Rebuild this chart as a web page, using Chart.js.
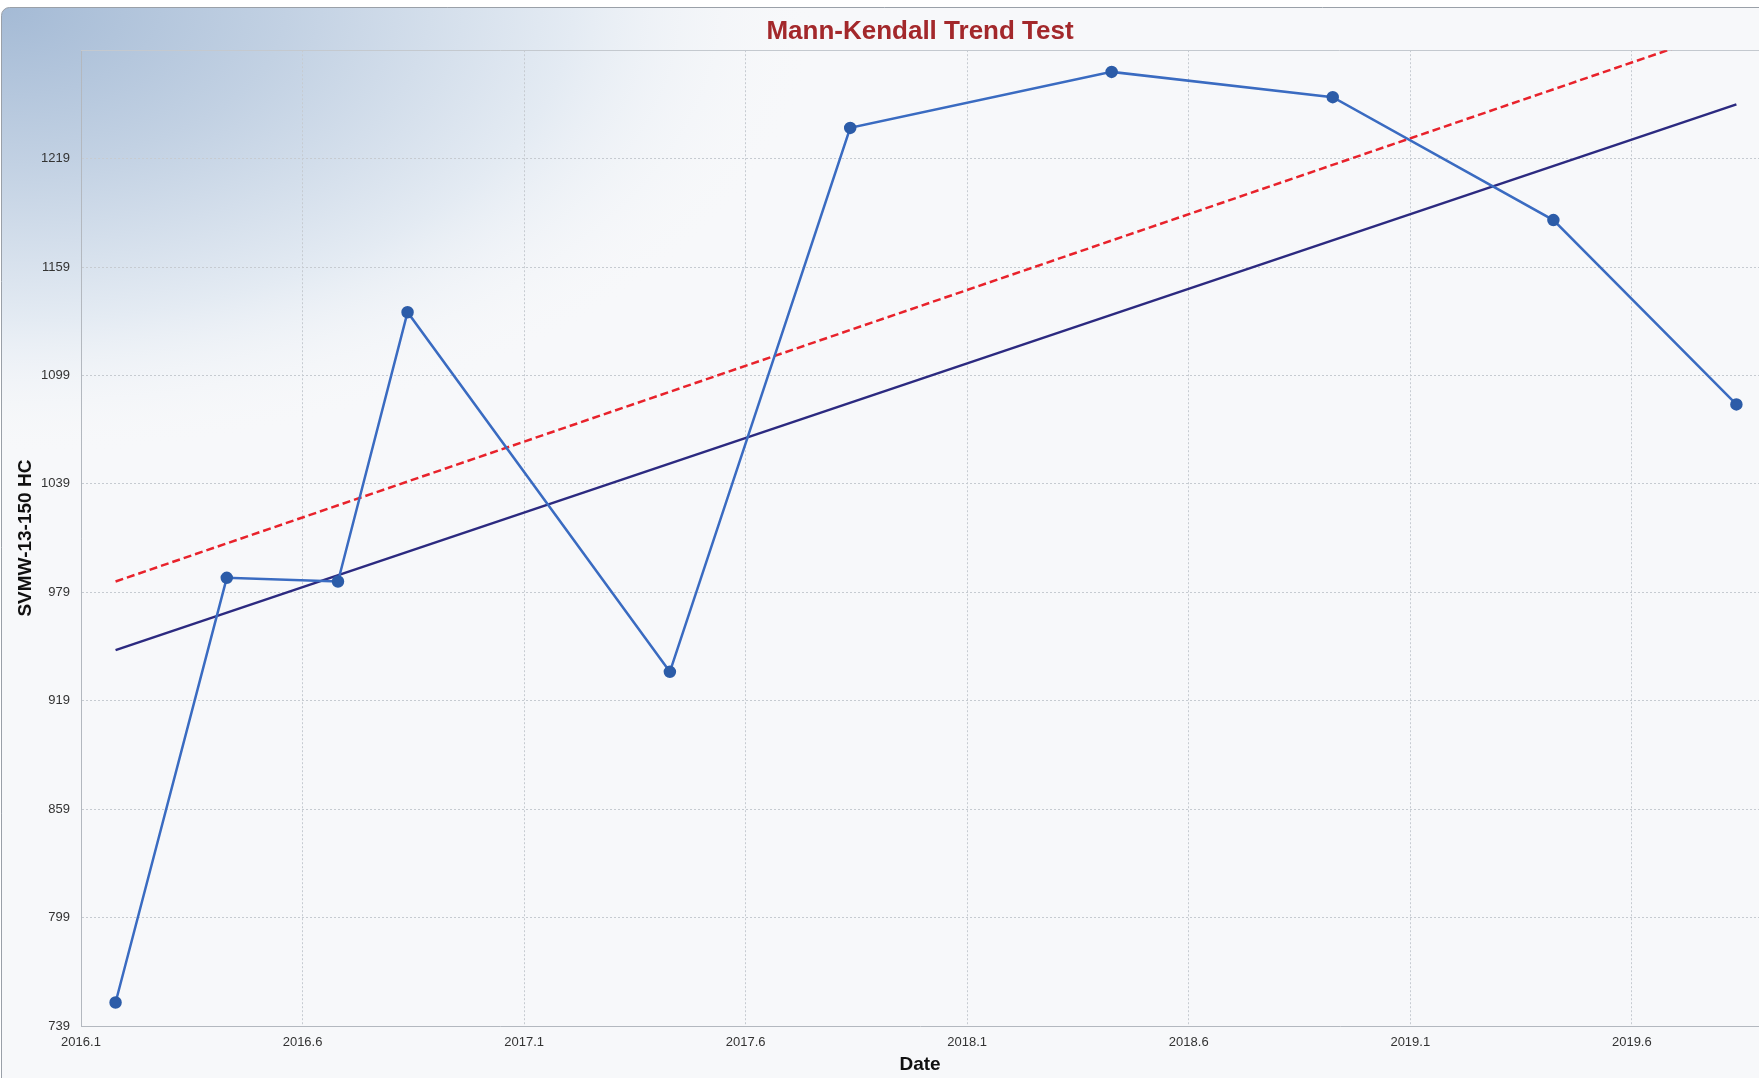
<!DOCTYPE html>
<html>
<head>
<meta charset="utf-8">
<title>Mann-Kendall Trend Test</title>
<script src="https://cdn.jsdelivr.net/npm/chart.js@4.4.1/dist/chart.umd.min.js"></script>
<style>
  html, body { margin: 0; padding: 0; background: #fff; }
  #wrap { width: 1759px; height: 1078px; }
</style>
</head>
<body>
<div id="wrap"><canvas id="mk" width="1759" height="1078"></canvas></div>
<script>
// sample dates (decimal years) and measured values
var sampleDates = [2016.178, 2016.429, 2016.680, 2016.837, 2017.429, 2017.836, 2018.426, 2018.925, 2019.423, 2019.836];
var sampleValues = [752, 987, 985, 1134, 935, 1236, 1267, 1253, 1185, 1083];

// trend line and upper bound, at first and last date
var trendDates = [2016.178, 2019.836];
var trendValues = [947, 1249];
var upperValues = [985, 1292];

var xTicks = [2016.1, 2016.6, 2017.1, 2017.6, 2018.1, 2018.6, 2019.1, 2019.6];
var yTicks = [739, 799, 859, 919, 979, 1039, 1099, 1159, 1219];
var xMin = 2016.1, xMax = 2019.887;
var yMin = 739, yMax = 1279;

function toPoints(xs, ys) {
  var pts = [];
  for (var i = 0; i < xs.length; i++) {
    pts.push({x: xs[i], y: ys[i]});
  }
  return pts;
}

function roundedBox(ctx, x, y, w, h, r) {
  ctx.beginPath();
  ctx.moveTo(x + r, y);
  ctx.lineTo(x + w, y);
  ctx.lineTo(x + w, y + h);
  ctx.lineTo(x, y + h);
  ctx.lineTo(x, y + r);
  ctx.arcTo(x, y, x + r, y, r);
  ctx.closePath();
}

// panel background with the bluish corner, and the top edge of the plot
var framePlugin = {
  id: 'frame',
  beforeDraw: function(chart) {
    var ctx = chart.ctx, w = chart.width, h = chart.height;
    ctx.save();
    ctx.fillStyle = '#ffffff';
    ctx.fillRect(0, 0, w, h);
    roundedBox(ctx, 1.5, 7.5, w + 10, h + 10, 8);
    ctx.fillStyle = '#f7f8fa';
    ctx.fill();
    ctx.save();
    ctx.clip();
    ctx.translate(0, 7);
    ctx.scale(820, 450);
    var g = ctx.createRadialGradient(0, 0, 0, 0, 0, 1);
    g.addColorStop(0, '#a4bad5');
    g.addColorStop(0.35, '#c2d1e3');
    g.addColorStop(0.7, '#e4ebf3');
    g.addColorStop(1, 'rgba(247,248,250,0)');
    ctx.fillStyle = g;
    ctx.fillRect(0, 0, 1.2, 1.2);
    ctx.restore();
    roundedBox(ctx, 1.5, 7.5, w + 10, h + 10, 8);
    ctx.strokeStyle = '#9aa0a8';
    ctx.lineWidth = 1;
    ctx.stroke();
    ctx.restore();
  },
  beforeDatasetsDraw: function(chart) {
    var a = chart.chartArea, ctx = chart.ctx;
    ctx.save();
    ctx.strokeStyle = '#c4c9cf';
    ctx.lineWidth = 1;
    ctx.beginPath();
    ctx.moveTo(a.left, Math.round(a.top) + 0.5);
    ctx.lineTo(a.right, Math.round(a.top) + 0.5);
    ctx.stroke();
    ctx.restore();
  }
};

var tickFont = { family: "'Liberation Sans', Arial, sans-serif", size: 13 };
var boldFont = { family: "'Liberation Sans', Arial, sans-serif", size: 19, weight: 'bold' };

new Chart(document.getElementById('mk'), {
  type: 'line',
  data: {
    datasets: [{
      label: 'SVMW-13-150 HC',
      data: toPoints(sampleDates, sampleValues),
      borderColor: '#3a6bc1',
      borderWidth: 2.5,
      pointRadius: 5,
      pointBackgroundColor: '#2c5ca8',
      pointBorderColor: '#2c5ca8',
      tension: 0
    }, {
      label: 'Trend',
      data: toPoints(trendDates, trendValues),
      borderColor: '#2c2a80',
      borderWidth: 2.5,
      pointRadius: 0
    }, {
      label: 'Upper',
      data: toPoints(trendDates, upperValues),
      borderColor: '#e8222b',
      borderWidth: 2.5,
      borderDash: [8, 4],
      pointRadius: 0
    }]
  },
  options: {
    responsive: false,
    animation: false,
    layout: { autoPadding: false, padding: { top: 8, left: 0, right: 0, bottom: 0 } },
    plugins: {
      legend: { display: false },
      tooltip: { enabled: false },
      title: {
        display: true,
        text: 'Mann-Kendall Trend Test',
        fullSize: false,
        color: '#a3282b',
        font: { family: "'Liberation Sans', Arial, sans-serif", size: 26, weight: 'bold' },
        padding: { top: 8, bottom: 3 }
      }
    },
    scales: {
      x: {
        type: 'linear',
        min: xMin,
        max: xMax,
        afterBuildTicks: function(scale) {
          scale.ticks = xTicks.map(function(v) { return {value: v}; });
        },
        afterFit: function(scale) { scale.height = 52; },
        ticks: {
          font: tickFont,
          color: '#333',
          padding: 9,
          maxRotation: 0,
          callback: function(v) { return v.toFixed(1); }
        },
        grid: { color: '#c6cbd1', lineWidth: 1, drawTicks: false },
        border: { display: true, color: '#b3b8bf', width: 1, dash: [2, 2] },
        title: { display: true, text: 'Date', color: '#111', font: boldFont, padding: { top: 0, bottom: 2 } }
      },
      y: {
        type: 'linear',
        min: yMin,
        max: yMax,
        afterBuildTicks: function(scale) {
          scale.ticks = yTicks.map(function(v) { return {value: v}; });
        },
        afterFit: function(scale) { scale.width = 81; },
        ticks: {
          font: tickFont,
          color: '#333',
          padding: 11,
          callback: function(v) { return String(v); }
        },
        grid: { color: '#c6cbd1', lineWidth: 1, drawTicks: false },
        border: { display: true, color: '#b3b8bf', width: 1, dash: [2, 2] },
        title: { display: true, text: 'SVMW-13-150 HC', color: '#111', font: boldFont, padding: { top: 14, bottom: 0 } }
      }
    }
  },
  plugins: [framePlugin]
});
</script>
</body>
</html>
